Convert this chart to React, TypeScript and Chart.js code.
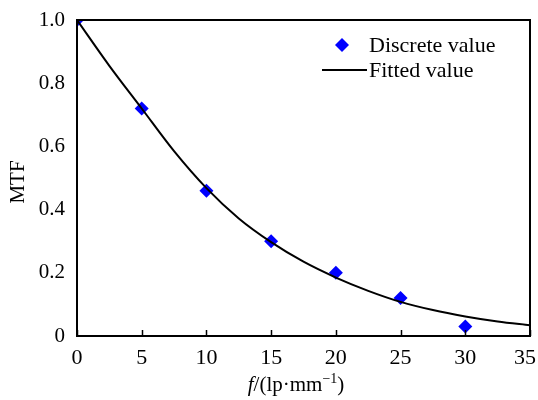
import React, { useEffect, useRef } from "react";
import { Chart, registerables } from "chart.js";

Chart.register(...registerables);

// ---- Data ----
const discreteX = [0, 5, 10, 15, 20, 25, 30];
const discreteY = [1.0, 0.72, 0.46, 0.3, 0.2, 0.12, 0.03];
const fittedX = [0, 2.5, 5, 7.5, 10, 12.5, 15, 17.5, 20, 22.5, 25, 27.5, 30, 32.5, 35];
const fittedY = [1.0, 0.855, 0.72, 0.585, 0.468, 0.372, 0.297, 0.235, 0.185, 0.143, 0.108, 0.082, 0.062, 0.046, 0.034];
const xTickValues = [0, 5, 10, 15, 20, 25, 30, 35];
const yTickValues = [0, 0.2, 0.4, 0.6, 0.8, 1.0];
const legendLabels = ["Discrete value", "Fitted value"];
const yTitle = "MTF";
const xTitleParts = ["f", "/(lp·mm", "−1", ")"];

const FONT = '"Liberation Serif", "Times New Roman", serif';
const BLUE = "#0000ff";

const decorPlugin = {
  id: "decor",
  afterDraw(chart: any) {
    const ctx = chart.ctx as CanvasRenderingContext2D;
    const a = chart.chartArea;
    const xs = chart.scales.x;
    ctx.save();
    // frame
    ctx.strokeStyle = "#000";
    ctx.lineWidth = 2;
    ctx.strokeRect(a.left, a.top, a.right - a.left, a.bottom - a.top);
    // inward ticks on x axis + tick labels
    ctx.lineWidth = 1.5;
    ctx.font = `22px ${FONT}`;
    ctx.fillStyle = "#000";
    ctx.textAlign = "center";
    ctx.textBaseline = "middle";
    xTickValues.forEach((v) => {
      const p = xs.getPixelForValue(v);
      const px = Math.round(p) + 0.5;
      ctx.beginPath();
      ctx.moveTo(px, a.bottom);
      ctx.lineTo(px, a.bottom - 6);
      ctx.stroke();
      const label = String(v);
      const w = ctx.measureText(label).width;
      const cx = Math.min(p, chart.width - 2 - w / 2);
      ctx.fillText(label, cx, a.bottom + 22);
    });
    // legend
    ctx.font = `22px ${FONT}`;
    ctx.textAlign = "left";
    ctx.textBaseline = "middle";
    const lx = 369;
    const ly1 = 45;
    const ly2 = 70;
    ctx.fillStyle = BLUE;
    ctx.beginPath();
    const r = 7;
    ctx.moveTo(342, ly1 - r);
    ctx.lineTo(342 + r, ly1);
    ctx.lineTo(342, ly1 + r);
    ctx.lineTo(342 - r, ly1);
    ctx.closePath();
    ctx.fill();
    ctx.fillStyle = "#000";
    ctx.fillText(legendLabels[0], lx, ly1 + 1);
    ctx.lineWidth = 2;
    ctx.beginPath();
    ctx.moveTo(322, ly2);
    ctx.lineTo(367, ly2);
    ctx.stroke();
    ctx.fillText(legendLabels[1], lx, ly2 + 1);
    // y title
    ctx.save();
    ctx.font = `21px ${FONT}`;
    ctx.translate(18, 182);
    ctx.rotate(-Math.PI / 2);
    ctx.textAlign = "center";
    ctx.fillText(yTitle, 0, 0);
    ctx.restore();
    // x title with italic f and superscript
    const fItal = `italic 21px ${FONT}`;
    const fNorm = `21px ${FONT}`;
    const fSup = `14px ${FONT}`;
    ctx.textBaseline = "alphabetic";
    ctx.font = fItal;
    const w0 = ctx.measureText(xTitleParts[0]).width;
    ctx.font = fNorm;
    const w1 = ctx.measureText(xTitleParts[1]).width;
    const w3 = ctx.measureText(xTitleParts[3]).width;
    ctx.font = fSup;
    const w2 = ctx.measureText(xTitleParts[2]).width;
    const total = w0 + w1 + w2 + w3;
    let x = 296 - total / 2;
    const base = 391;
    ctx.font = fItal;
    ctx.fillText(xTitleParts[0], x, base);
    x += w0;
    ctx.font = fNorm;
    ctx.fillText(xTitleParts[1], x, base);
    x += w1;
    ctx.font = fSup;
    ctx.fillText(xTitleParts[2], x, base - 8);
    x += w2;
    ctx.font = fNorm;
    ctx.fillText(xTitleParts[3], x, base);
    ctx.restore();
  },
};

export default function App() {
  const ref = useRef<HTMLCanvasElement | null>(null);
  useEffect(() => {
    document.body.style.margin = "0";
    const canvas = ref.current;
    if (!canvas) return;
    const chart = new Chart(canvas, {
      type: "scatter",
      data: {
        datasets: [
          {
            type: "line",
            label: legendLabels[1],
            data: fittedX.map((x, i) => ({ x, y: fittedY[i] })),
            borderColor: "#000",
            borderWidth: 2,
            pointRadius: 0,
            cubicInterpolationMode: "monotone",
            fill: false,
            order: 0,
            clip: 0,
          } as any,
          {
            type: "scatter",
            label: legendLabels[0],
            data: discreteX.map((x, i) => ({ x, y: discreteY[i] })),
            pointStyle: "rectRot",
            pointRadius: 7,
            backgroundColor: BLUE,
            borderColor: BLUE,
            borderWidth: 0,
            order: 1,
            clip: 0,
          } as any,
        ],
      },
      options: {
        responsive: false,
        animation: false,
        layout: { padding: { left: 0, top: 20, right: 8, bottom: 0 } },
        plugins: { legend: { display: false }, tooltip: { enabled: false } },
        scales: {
          x: {
            type: "linear",
            min: 0,
            max: 35,
            afterBuildTicks: (s: any) => {
              s.ticks = xTickValues.map((v) => ({ value: v }));
            },
            ticks: { display: false },
            grid: { display: false, drawTicks: false },
            border: { display: false },
            afterFit: (s: any) => {
              s.height = 64;
              s.paddingLeft = 0;
              s.paddingRight = 0;
            },
          },
          y: {
            type: "linear",
            min: 0,
            max: 1,
            afterBuildTicks: (s: any) => {
              s.ticks = yTickValues.map((v) => ({ value: v }));
            },
            ticks: {
              padding: 12,
              color: "#000",
              font: { family: FONT, size: 21 },
              callback: (v: any) => (v === 0 ? "0" : Number(v).toFixed(1)),
            },
            grid: { display: false, drawTicks: false },
            border: { display: false },
            afterFit: (s: any) => {
              s.width = 77;
              s.paddingTop = 0;
              s.paddingBottom = 0;
            },
          },
        },
      },
      plugins: [decorPlugin],
    });
    return () => chart.destroy();
  }, []);
  return (
    <div style={{ width: 538, height: 400, background: "#fff" }}>
      <canvas ref={ref} width={538} height={400} style={{ display: "block" }} />
    </div>
  );
}
